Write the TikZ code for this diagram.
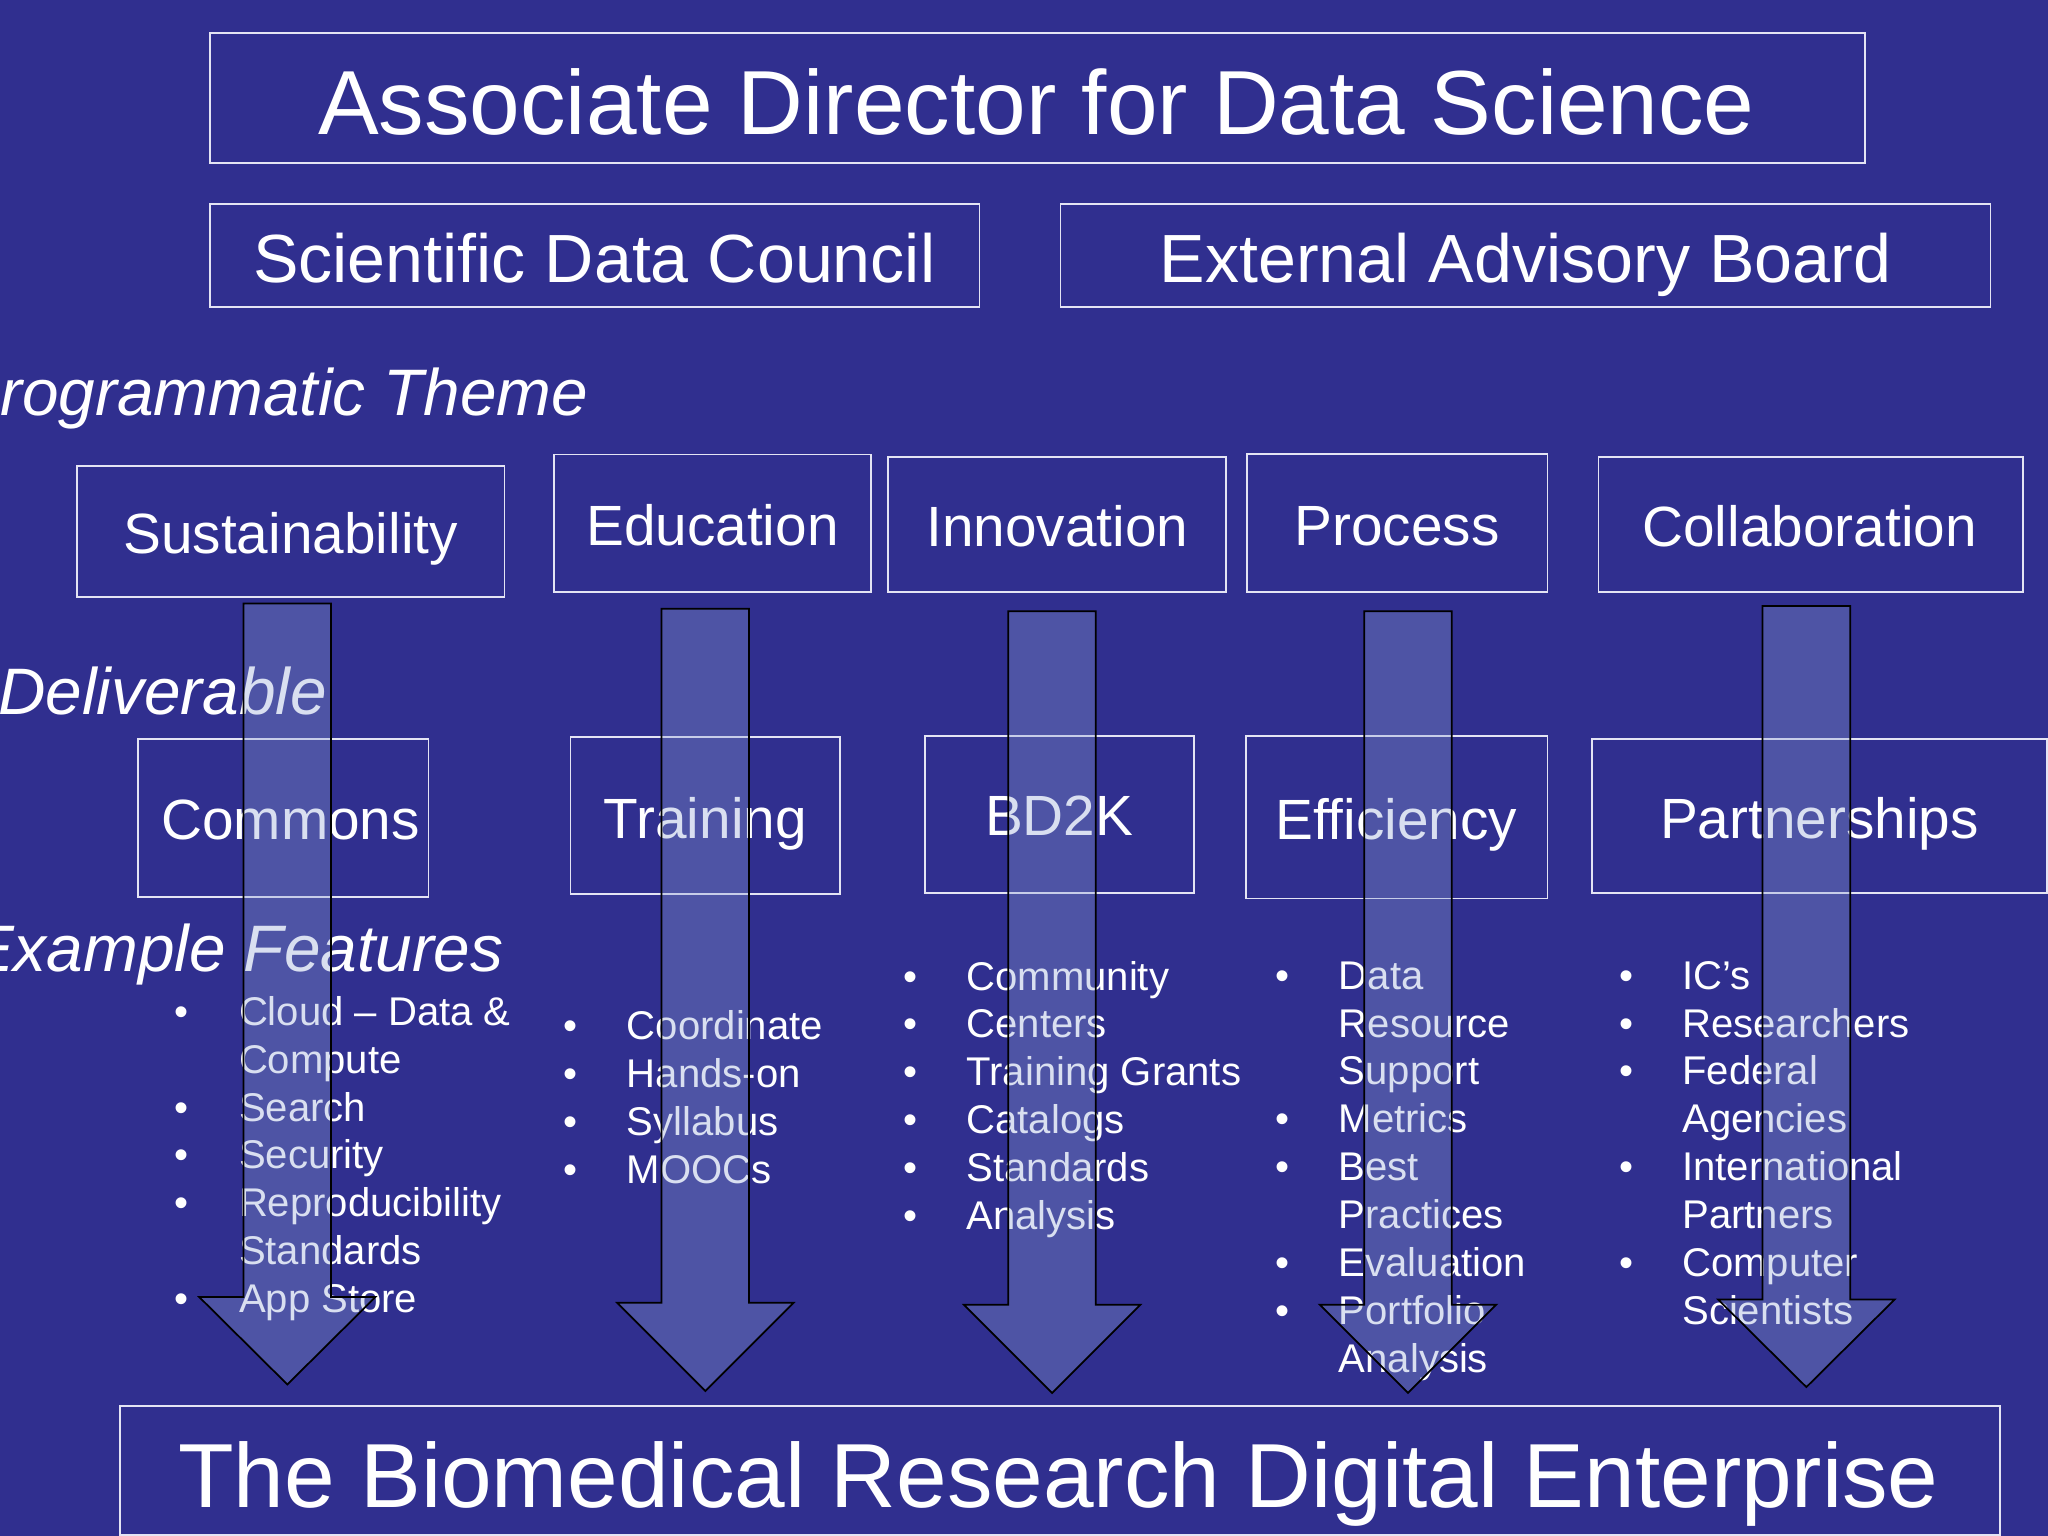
\documentclass[tikz,border=0pt]{standalone}
\usepackage{fontspec}
\setmainfont{Liberation Sans}
\usetikzlibrary{fit}
\definecolor{bg}{RGB}{48,47,143}
\definecolor{edge}{RGB}{228,228,244}
\definecolor{arrowfill}{RGB}{140,160,212}
\newcommand\blockarr[4]{%
  \draw[arr] (#1-33.5,#2) -- (#1+33.5,#2) -- (#1+33.5,#3) -- (#1+67.5,#3)
    -- (#1,#4) -- (#1-67.5,#3) -- (#1-33.5,#3) -- cycle;}
\newcommand\featlist[5]{%
  \foreach \fbul/\ftxt [count=\fidx from 0] in {#5} {
    \node[item] (#1t\fidx) at (#3, #4+\fidx*36.67) {\ftxt};
    \ifnum\fbul=1 \node[bul] (#1b\fidx) at (#2, #4+\fidx*36.67) {•};\fi
  }}
\begin{document}
\begin{tikzpicture}[x=0.013061cm,y=-0.013061cm,
  box/.style={draw=edge, line width=0.5pt, inner sep=0pt},
  bigtxt/.style={text=white, inner sep=0pt, anchor=base, font=\fontsize{25.9}{31}\selectfont},
  midtxt/.style={text=white, inner sep=0pt, anchor=base, font=\fontsize{19.4}{23}\selectfont},
  smalltxt/.style={text=white, inner sep=0pt, anchor=base, font=\fontsize{16.15}{19}\selectfont},
  lab/.style={text=white, inner sep=0pt, anchor=base east, font=\fontsize{18.7}{22}\selectfont\itshape},
  item/.style={text=white, inner sep=0pt, anchor=base west, font=\fontsize{11.4}{13.7}\selectfont},
  bul/.style={text=white, inner sep=0pt, anchor=base, font=\fontsize{11.4}{13.7}\selectfont},
  arr/.style={fill=arrowfill, fill opacity=0.33, draw=black, line width=0.5pt, line join=miter}]
\fill[bg] (0,0) rectangle (1568,1176);
\useasboundingbox (0,0) rectangle (1568,1176);

% top boxes
\node[box, fit={(161,25) (1428,125)}] (adb) {};
\node[bigtxt] (adt) at (793.5,102.6) {Associate Director for Data Science};
\node[box, fit={(161,156) (750,235)}] (sdcb) {};
\node[midtxt] (sdct) at (455,216.6) {Scientific Data Council};
\node[box, fit={(812,156) (1524,235)}] (eabb) {};
\node[midtxt] (eabt) at (1168,216.6) {External Advisory Board};

% section labels
\node[lab] (progr) at (451,318) {Programmatic Theme};
\node[lab] (deliv) at (251,547.4) {Deliverable};
\node[lab] (examp) at (386,744) {Example Features};

% theme row
\node[box, fit={(59,356.5) (386.3,456.8)}] (susb) {};
\node[smalltxt] (sust) at (222.5,423.7) {Sustainability};
\node[box, fit={(424.2,348) (667,453)}] (edub) {};
\node[smalltxt] (edut) at (545.5,417.7) {Education};
\node[box, fit={(680,350) (938.8,453)}] (innb) {};
\node[smalltxt] (innt) at (809.5,418.7) {Innovation};
\node[box, fit={(955,347.6) (1184.8,453)}] (prob) {};
\node[smalltxt] (prot) at (1069.5,417.3) {Process};
\node[box, fit={(1223.9,350) (1548.8,453)}] (colb) {};
\node[smalltxt] (colt) at (1385.5,418.7) {Collaboration};

% deliverable row
\node[box, fit={(105.6,566) (328.1,687)}] (comb) {};
\node[smalltxt] (comt) at (222.5,642.7) {Commons};
\node[box, fit={(436.8,564) (643,684.5)}] (trab) {};
\node[smalltxt] (trat) at (540,641.7) {Training};
\node[box, fit={(708,563.5) (914.2,683.7)}] (bdkb) {};
\node[smalltxt] (bdkt) at (811,639.7) {BD2K};
\node[box, fit={(953.7,563.5) (1184.8,688)}] (effb) {};
\node[smalltxt] (efft) at (1069,642.7) {Efficiency};
\node[box, fit={(1218.6,565.6) (1567,683.5)}] (parb) {};
\node[smalltxt] (part) at (1393,641.7) {Partnerships};

% feature lists
\featlist{la}{139}{182.5}{785}{1/Cloud – Data \&, 0/Compute, 1/Search, 1/Security, 1/Reproducibility, 0/Standards, 1/App Store}
\featlist{lb}{437}{479.5}{796}{1/Coordinate, 1/Hands-on, 1/Syllabus, 1/MOOCs}
\featlist{lc}{697}{739.5}{758}{1/Community, 1/Centers, 1/Training Grants, 1/Catalogs, 1/Standards, 1/Analysis}
\featlist{ld}{982}{1024.5}{757.3}{1/Data, 0/Resource, 0/Support, 1/Metrics, 1/Best, 0/Practices, 1/Evaluation, 1/Portfolio, 0/Analysis}
\featlist{le}{1245}{1287.5}{757.3}{1/IC’s, 1/Researchers, 1/Federal, 0/Agencies, 1/International, 0/Partners, 1/Computer, 0/Scientists}

% bottom box
\node[box, fit={(92,1076.5) (1531,1175)}] (brdb) {};
\node[bigtxt] (brdt) at (810.5,1154) {The Biomedical Research Digital Enterprise};

% block arrows
\blockarr{220}{462}{993}{1060}
\blockarr{540}{466}{997.5}{1065}
\blockarr{805.5}{468}{999}{1066.5}
\blockarr{1078}{468}{999}{1066.5}
\blockarr{1383}{464}{995}{1062}
\end{tikzpicture}
\end{document}
